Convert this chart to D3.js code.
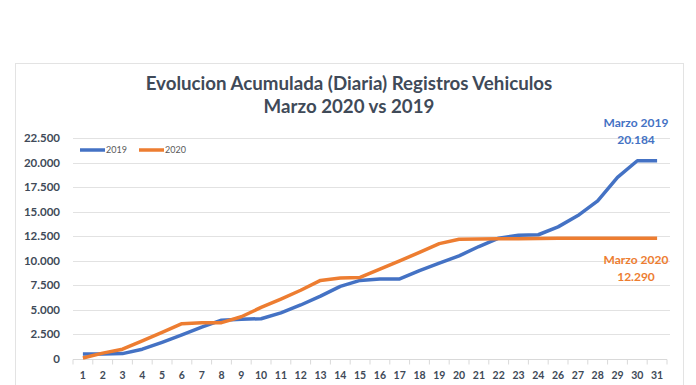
<!DOCTYPE html>
<html>
<head>
<meta charset="utf-8">
<script src="https://cdn.jsdelivr.net/npm/d3@7"></script>
<style>
  body { margin: 0; background: #fff; }
  svg text { font-family: Lato, "Open Sans", sans-serif; }
</style>
</head>
<body>
<div id="chart-area"></div>
<script>
// March days (note: no 25 on the original axis)
var days = ["1","2","3","4","5","6","7","8","9","10","11","12","13","14","15","16","17","18","19","20","21","22","23","24","26","27","28","29","30","31"];

var values2019 = [520, 520, 550, 1000, 1700, 2450, 3250, 3950, 4050, 4100, 4700, 5500, 6400, 7400, 8000, 8150, 8150, 9000, 9750, 10500, 11450, 12300, 12600, 12650, 13450, 14600, 16100, 18500, 20184, 20184];
var values2020 = [100, 600, 1000, 1850, 2700, 3600, 3700, 3700, 4300, 5250, 6100, 7000, 8000, 8250, 8300, 9150, 10000, 10850, 11750, 12200, 12220, 12230, 12250, 12280, 12290, 12290, 12290, 12290, 12290, 12290];

var yTicks = [0, 2500, 5000, 7500, 10000, 12500, 15000, 17500, 20000, 22500];
var seriesNames = ["2019", "2020"];
var colors = ["#4472C4", "#ED7D31"];

var width = 696, height = 385;
var margin = { left: 73, right: 29, top: 138, bottom: 26 };

var svg = d3.select("#chart-area")
    .append("svg")
    .attr("width", width)
    .attr("height", height);

// chart frame
svg.append("rect")
    .attr("x", 15.5)
    .attr("y", 63.5)
    .attr("width", 668)
    .attr("height", 340)
    .attr("fill", "#fff")
    .attr("stroke", "#e3e3e3");

var x = d3.scaleBand()
    .domain(days)
    .range([margin.left, width - margin.right])
    .paddingInner(0)
    .paddingOuter(0);

var y = d3.scaleLinear()
    .domain([0, 22500])
    .range([height - margin.bottom, margin.top]);

// gridlines
svg.append("g")
    .selectAll("line")
    .data(yTicks.slice(1))
    .enter().append("line")
    .attr("x1", margin.left)
    .attr("x2", width - margin.right + 3)
    .attr("y1", function (d) { return Math.round(y(d)) + 0.5; })
    .attr("y2", function (d) { return Math.round(y(d)) + 0.5; })
    .attr("stroke", "#e2e2e2")
    .attr("stroke-width", 1);

// x axis line + ticks at band edges
var yZero = Math.round(y(0)) + 0.5;
svg.append("line")
    .attr("x1", margin.left)
    .attr("x2", width - margin.right)
    .attr("y1", yZero)
    .attr("y2", yZero)
    .attr("stroke", "#d9d9d9");

svg.append("g")
    .selectAll("line")
    .data(days.concat(["end"]))
    .enter().append("line")
    .attr("x1", function (d) { return d === "end" ? x.range()[1] : x(d); })
    .attr("x2", function (d) { return d === "end" ? x.range()[1] : x(d); })
    .attr("y1", yZero)
    .attr("y2", yZero + 5)
    .attr("stroke", "#d9d9d9");

// x labels
svg.append("g")
    .selectAll("text")
    .data(days)
    .enter().append("text")
    .attr("x", function (d) { return x(d) + x.bandwidth() / 2; })
    .attr("y", 379)
    .attr("text-anchor", "middle")
    .attr("font-size", "10.5px")
    .attr("font-weight", "bold")
    .attr("fill", "#404a58")
    .text(function (d) { return d; });

// y labels
var fmt = function (d) { return d === 0 ? "0" : d3.format(",")(d).replace(/,/g, "."); };
svg.append("g")
    .selectAll("text")
    .data(yTicks)
    .enter().append("text")
    .attr("x", 60)
    .attr("y", function (d) { return y(d) + 4; })
    .attr("text-anchor", "end")
    .attr("font-size", "11.5px")
    .attr("font-weight", "bold")
    .attr("fill", "#404a58")
    .text(fmt);

// lines
var line = d3.line()
    .x(function (d, i) { return x(days[i]) + x.bandwidth() / 2; })
    .y(function (d) { return y(d); });

[values2019, values2020].forEach(function (vals, k) {
    svg.append("path")
        .datum(vals)
        .attr("fill", "none")
        .attr("stroke", colors[k])
        .attr("stroke-width", 3.5)
        .attr("stroke-linejoin", "round")
        .attr("d", line);
});

// title
svg.append("text")
    .attr("x", 349)
    .attr("y", 90)
    .attr("text-anchor", "middle")
    .attr("font-size", "18.7px")
    .attr("font-weight", "bold")
    .attr("fill", "#404a58")
    .text("Evolucion Acumulada (Diaria) Registros Vehiculos");

svg.append("text")
    .attr("x", 349)
    .attr("y", 113)
    .attr("text-anchor", "middle")
    .attr("font-size", "18.7px")
    .attr("font-weight", "bold")
    .attr("fill", "#404a58")
    .text("Marzo 2020 vs 2019");

// legend
var legend = svg.append("g");
seriesNames.forEach(function (name, k) {
    var lx = 80 + k * 59;
    legend.append("line")
        .attr("x1", lx)
        .attr("x2", lx + 25)
        .attr("y1", 150)
        .attr("y2", 150)
        .attr("stroke", colors[k])
        .attr("stroke-width", 3.5);
    legend.append("text")
        .attr("x", lx + 26)
        .attr("y", 153)
        .attr("font-size", "9px")
        .attr("fill", "#595959")
        .text(name);
});

// end annotations
var last = days.length - 1;
var annot = [
    { lines: ["Marzo 2019", fmt(values2019[last])], color: colors[0], y: 127 },
    { lines: ["Marzo 2020", fmt(values2020[last])], color: colors[1], y: 264 }
];
annot.forEach(function (a) {
    a.lines.forEach(function (t, j) {
        svg.append("text")
            .attr("x", 636)
            .attr("y", a.y + j * 17)
            .attr("text-anchor", "middle")
            .attr("font-size", "12px")
            .attr("font-weight", "bold")
            .attr("fill", a.color)
            .text(t);
    });
});
</script>
</body>
</html>
